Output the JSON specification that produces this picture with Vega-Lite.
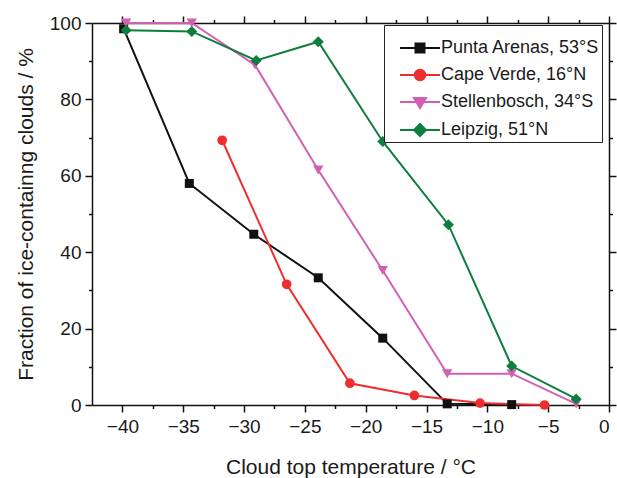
{
  "$schema": "https://vega.github.io/schema/vega-lite/v6.json",
  "width": 517,
  "height": 382,
  "autosize": {"type": "none"},
  "padding": {"left": 92, "top": 23, "right": 8, "bottom": 73},
  "background": "white",
  "config": {
    "view": {"stroke": null},
    "axis": {
      "grid": false,
      "domainColor": "#111111",
      "domainWidth": 1.5,
      "tickColor": "#111111",
      "tickWidth": 1.5,
      "labelFont": "Liberation Sans",
      "labelFontSize": 19,
      "labelColor": "#1a1a1a",
      "titleFont": "Liberation Sans",
      "titleFontSize": 21,
      "titleFontWeight": "normal",
      "titleColor": "#1a1a1a"
    },
    "legend": {
      "orient": "none",
      "legendX": 292,
      "legendY": 2,
      "titleFontSize": 8,
      "titlePadding": 4,
      "padding": 2,
      "strokeColor": "#222222",
      "fillColor": "white",
      "labelFont": "Liberation Sans",
      "labelFontSize": 18,
      "labelColor": "#1a1a1a",
      "labelLimit": 300,
      "symbolSize": 100,
      "symbolOffset": 25,
      "labelOffset": 12,
      "rowPadding": 8,
      "symbolStrokeWidth": 2,
      "symbolOpacity": 1
    }
  },
  "data": {
    "values": [
      {"site": "Punta Arenas, 53°S", "t": -39.9, "f": 98.5},
      {"site": "Punta Arenas, 53°S", "t": -34.5, "f": 58.0},
      {"site": "Punta Arenas, 53°S", "t": -29.2, "f": 44.7},
      {"site": "Punta Arenas, 53°S", "t": -23.9, "f": 33.3},
      {"site": "Punta Arenas, 53°S", "t": -18.6, "f": 17.5},
      {"site": "Punta Arenas, 53°S", "t": -13.3, "f": 0.3},
      {"site": "Punta Arenas, 53°S", "t": -8.0, "f": 0.1},
      {"site": "Cape Verde, 16°N", "t": -31.8, "f": 69.3},
      {"site": "Cape Verde, 16°N", "t": -26.5, "f": 31.6},
      {"site": "Cape Verde, 16°N", "t": -21.3, "f": 5.7},
      {"site": "Cape Verde, 16°N", "t": -16.0, "f": 2.5},
      {"site": "Cape Verde, 16°N", "t": -10.6, "f": 0.5},
      {"site": "Cape Verde, 16°N", "t": -5.3, "f": 0.0},
      {"site": "Stellenbosch, 34°S", "t": -39.7, "f": 100.0},
      {"site": "Stellenbosch, 34°S", "t": -34.3, "f": 100.0},
      {"site": "Stellenbosch, 34°S", "t": -29.1, "f": 89.0},
      {"site": "Stellenbosch, 34°S", "t": -23.9, "f": 61.5},
      {"site": "Stellenbosch, 34°S", "t": -18.6, "f": 35.2},
      {"site": "Stellenbosch, 34°S", "t": -13.3, "f": 8.2},
      {"site": "Stellenbosch, 34°S", "t": -8.0, "f": 8.2},
      {"site": "Stellenbosch, 34°S", "t": -2.7, "f": 0.3},
      {"site": "Leipzig, 51°N", "t": -39.7, "f": 98.1},
      {"site": "Leipzig, 51°N", "t": -34.3, "f": 97.8},
      {"site": "Leipzig, 51°N", "t": -29.0, "f": 90.2},
      {"site": "Leipzig, 51°N", "t": -23.9, "f": 95.1},
      {"site": "Leipzig, 51°N", "t": -18.6, "f": 69.0},
      {"site": "Leipzig, 51°N", "t": -13.2, "f": 47.2},
      {"site": "Leipzig, 51°N", "t": -8.0, "f": 10.2},
      {"site": "Leipzig, 51°N", "t": -2.7, "f": 1.6}
    ]
  },
  "layer": [
    {
      "mark": {"type": "line", "strokeWidth": 2},
      "encoding": {
        "x": {
          "field": "t", "type": "quantitative",
          "scale": {"domain": [-42.5, 0], "nice": false, "zero": false},
          "axis": {
            "orient": "bottom",
            "title": "Cloud top temperature / °C",
            "values": [-40, -37.5, -35, -32.5, -30, -27.5, -25, -22.5, -20, -17.5, -15, -12.5, -10, -7.5, -5, -2.5, 0],
            "format": "d",
            "labelExpr": "datum.value % 5 === 0 ? datum.label : ''",
            "tickSize": {"condition": {"test": "datum.value % 5 === 0", "value": 7}, "value": 3.5},
            "labelPadding": 5,
            "titlePadding": 20
          }
        },
        "y": {
          "field": "f", "type": "quantitative",
          "scale": {"domain": [0, 100], "nice": false},
          "axis": {
            "orient": "left",
            "title": "Fraction of ice-containng clouds / %",
            "values": [0, 10, 20, 30, 40, 50, 60, 70, 80, 90, 100],
            "format": "d",
            "labelExpr": "datum.value % 20 === 0 ? datum.label : ''",
            "tickSize": {"condition": {"test": "datum.value % 20 === 0", "value": 7}, "value": 3.5},
            "labelPadding": 4,
            "titlePadding": 13
          }
        },
        "color": {
          "field": "site", "type": "nominal",
          "scale": {
            "domain": ["Punta Arenas, 53°S", "Cape Verde, 16°N", "Stellenbosch, 34°S", "Leipzig, 51°N"],
            "range": ["#111111", "#EE2E2E", "#D35FB5", "#0E7E3E"]
          },
          "legend": null
        }
      }
    },
    {
      "mark": {"type": "point", "filled": true, "opacity": 1},
      "encoding": {
        "x": {
          "field": "t", "type": "quantitative",
          "scale": {"domain": [-42.5, 0], "nice": false, "zero": false},
          "axis": {
            "orient": "top",
            "title": null,
            "labels": false,
            "values": [-40, -37.5, -35, -32.5, -30, -27.5, -25, -22.5, -20, -17.5, -15, -12.5, -10, -7.5, -5, -2.5, 0],
            "tickSize": {"condition": {"test": "datum.value % 5 === 0", "value": 7}, "value": 3.5}
          }
        },
        "y": {
          "field": "f", "type": "quantitative",
          "scale": {"domain": [0, 100], "nice": false},
          "axis": {
            "orient": "right",
            "title": null,
            "labels": false,
            "values": [0, 10, 20, 30, 40, 50, 60, 70, 80, 90, 100],
            "tickSize": {"condition": {"test": "datum.value % 20 === 0", "value": 7}, "value": 3.5}
          }
        },
        "color": {
          "field": "site", "type": "nominal",
          "scale": {
            "domain": ["Punta Arenas, 53°S", "Cape Verde, 16°N", "Stellenbosch, 34°S", "Leipzig, 51°N"],
            "range": ["#111111", "#EE2E2E", "#D35FB5", "#0E7E3E"]
          },
          "legend": null
        },
        "shape": {
          "field": "site", "type": "nominal",
          "scale": {
            "domain": ["Punta Arenas, 53°S", "Cape Verde, 16°N", "Stellenbosch, 34°S", "Leipzig, 51°N"],
            "range": ["square", "circle", "triangle-down", "diamond"]
          },
          "legend": null
        },
        "size": {
          "field": "site", "type": "ordinal",
          "scale": {
            "domain": ["Punta Arenas, 53°S", "Cape Verde, 16°N", "Stellenbosch, 34°S", "Leipzig, 51°N"],
            "range": [81, 121, 144, 144]
          },
          "legend": null
        }
      }
    },
    {
      "mark": {"type": "point", "filled": true, "opacity": 0, "strokeWidth": 2},
      "encoding": {
        "x": {"field": "t", "type": "quantitative", "axis": null},
        "y": {"field": "f", "type": "quantitative", "axis": null},
        "shape": {
          "field": "site", "type": "nominal",
          "scale": {
            "domain": ["Punta Arenas, 53°S", "Cape Verde, 16°N", "Stellenbosch, 34°S", "Leipzig, 51°N"],
            "range": [
              "M-4,0H4M-0.9,-0.9H0.9V0.9H-0.9Z",
              "M-4,0H4M-1.05,0A1.05,1.05,0,1,0,1.05,0A1.05,1.05,0,1,0,-1.05,0Z",
              "M-4,0H4M-1.2,-0.8H1.2L0,1.2Z",
              "M-4,0H4M0,-1.2L1.2,0L0,1.2L-1.2,0Z"
            ]
          },
          "legend": {"title": " "}
        },
        "fill": {
          "field": "site", "type": "nominal",
          "scale": {
            "domain": ["Punta Arenas, 53°S", "Cape Verde, 16°N", "Stellenbosch, 34°S", "Leipzig, 51°N"],
            "range": ["#111111", "#EE2E2E", "#D35FB5", "#0E7E3E"]
          },
          "legend": {"title": " "}
        },
        "stroke": {
          "field": "site", "type": "nominal",
          "scale": {
            "domain": ["Punta Arenas, 53°S", "Cape Verde, 16°N", "Stellenbosch, 34°S", "Leipzig, 51°N"],
            "range": ["#111111", "#EE2E2E", "#D35FB5", "#0E7E3E"]
          },
          "legend": {"title": " "}
        }
      }
    }
  ],
  "resolve": {
    "axis": {"x": "independent", "y": "independent"},
    "scale": {"shape": "independent", "fill": "independent", "stroke": "independent"}
  }
}
